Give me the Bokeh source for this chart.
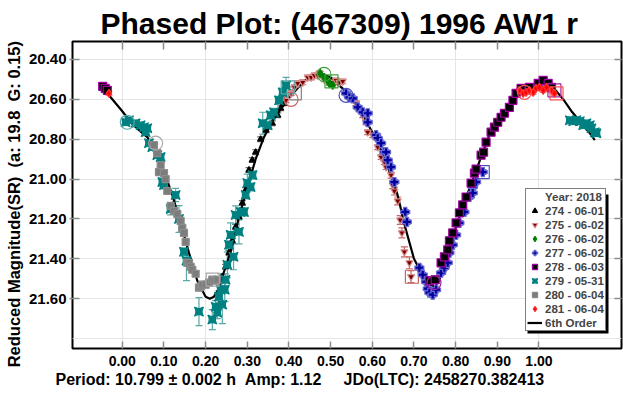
import math
from bokeh.plotting import figure
from bokeh.models import (Range1d, LinearAxis, FixedTicker, PrintfTickFormatter, Title,
                          Legend, LegendItem, ColumnDataSource, Whisker, TeeHead, BoxAnnotation)
from bokeh.embed import file_html
from bokeh.resources import INLINE

FONT = "Liberation Sans"

# ---------------- data ----------------
x_ticks = [0.0, 0.1, 0.2, 0.3, 0.4, 0.5, 0.6, 0.7, 0.8, 0.9, 1.0]
y_ticks = [20.4, 20.6, 20.8, 21.0, 21.2, 21.4, 21.6]

title_text = "Phased Plot: (467309) 1996 AW1 r"
ylabel_text = "Reduced Magnitude(SR)\u00a0\u00a0(a: 19.8\u00a0\u00a0G: 0.15)\u00a0\u00a0\u00a0\u00a0"
footer_text = "Period: 10.799 \u00b1 0.002 h\u00a0\u00a0Amp: 1.12\u00a0\u00a0\u00a0\u00a0\u00a0JDo(LTC): 2458270.382413"
legend_title = "Year: 2018"
fit_label = "6th Order"

ph274 = [0.240, 0.248, 0.256, 0.264, 0.272, 0.280, 0.288, 0.296, 0.304, 0.312, 0.320, 0.332, 0.345, 0.360, 0.373, 0.380, 0.388]
mg274 = [21.49, 21.44, 21.37, 21.31, 21.24, 21.19, 21.12, 21.055, 20.955, 20.905, 20.865, 20.80, 20.755, 20.72, 20.68, 20.645, 20.62]
er274 = [0.012] * 17

ph275 = [0.393, 0.405, 0.413, 0.421, 0.433, 0.445, 0.453, 0.461, 0.469, 0.473, 0.485, 0.497, 0.505, 0.513, 0.521, 0.529,
         0.549, 0.561, 0.577, 0.585, 0.589, 0.601, 0.613, 0.621, 0.629, 0.633, 0.645, 0.649, 0.653, 0.661, 0.667, 0.671,
         0.677, 0.689, 0.693]
mg275 = [20.605, 20.57, 20.54, 20.52, 20.515, 20.49, 20.49, 20.48, 20.48, 20.47, 20.50, 20.515, 20.515, 20.505, 20.515, 20.51,
         20.59, 20.62, 20.68, 20.715, 20.765, 20.78, 20.84, 20.89, 20.915, 20.94, 20.98, 21.03, 21.06, 21.11, 21.205, 21.27,
         21.365, 21.42, 21.49]
er275 = [0.012] * 26 + [0.015, 0.018, 0.02, 0.02, 0.022, 0.025, 0.025, 0.03, 0.03]

ph276 = [0.475, 0.485, 0.493, 0.497, 0.505]
mg276 = [20.47, 20.49, 20.505, 20.52, 20.53]
er276 = [0.01] * 5

ph277 = [0.537, 0.545, 0.553, 0.565, 0.577, 0.589, 0.589, 0.609, 0.613, 0.621, 0.629, 0.633, 0.637, 0.645, 0.653, 0.679,
         0.683, 0.713, 0.721, 0.729, 0.733, 0.737, 0.745, 0.753, 0.765, 0.773, 0.781, 0.785, 0.793, 0.801, 0.809, 0.821,
         0.833, 0.841, 0.841, 0.849, 0.865]
mg277 = [20.57, 20.59, 20.595, 20.64, 20.665, 20.67, 20.715, 20.78, 20.795, 20.82, 20.865, 20.865, 20.905, 20.94, 21.015, 21.165,
         21.215, 21.445, 21.48, 21.515, 21.55, 21.57, 21.58, 21.555, 21.47, 21.445, 21.42, 21.37, 21.33, 21.28, 21.22, 21.165,
         21.09, 21.04, 21.07, 21.015, 20.965]
er277 = [0.012] * 37

ph278 = [-0.047, -0.041, -0.036, 0.737, 0.751, 0.765, 0.773, 0.781, 0.785, 0.793, 0.801, 0.809, 0.817, 0.825, 0.837, 0.845,
         0.849, 0.861, 0.867, 0.873, 0.885, 0.893, 0.901, 0.909, 0.917, 0.929, 0.9375, 0.945, 0.957, 0.977, 0.998, 1.010,
         1.022, 1.030]
mg278 = [20.535, 20.545, 20.555, 21.51, 21.505, 21.42, 21.39, 21.355, 21.31, 21.27, 21.22, 21.17, 21.13, 21.09, 21.02, 20.97,
         20.95, 20.88, 20.865, 20.815, 20.765, 20.74, 20.715, 20.69, 20.67, 20.64, 20.605, 20.57, 20.545, 20.54, 20.52, 20.505,
         20.52, 20.54]
er278 = [0.012] * 34

ph279 = [0.008, 0.016, 0.032, 0.044, 0.052, 0.056, 0.060, 0.064, 0.072, 0.084, 0.092, 0.096, 0.100, 0.116, 0.128, 0.136,
         0.148, 0.154, 0.184, 0.216, 0.224, 0.228, 0.232, 0.236, 0.240, 0.246, 0.248, 0.252, 0.256, 0.260, 0.267, 0.272,
         0.280, 0.284, 0.292, 0.296, 0.300, 0.308, 0.3125, 0.337, 0.349, 0.356, 0.364, 0.376, 0.385, 0.393,
         1.074, 1.082, 1.090, 1.098, 1.106, 1.114, 1.122, 1.126, 1.134, 1.138]
mg279 = [20.715, 20.705, 20.72, 20.73, 20.74, 20.765, 20.745, 20.82, 20.84, 20.88, 20.89, 21.015, 21.03, 21.15, 21.08, 21.20,
         21.365, 21.41, 21.665, 21.705, 21.64, 21.67, 21.59, 21.555, 21.63, 21.555, 21.505, 21.43, 21.33, 21.28, 21.39, 21.18,
         21.265, 21.165, 21.165, 21.08, 21.02, 21.04, 20.98, 20.72, 20.73, 20.68, 20.665, 20.605, 20.565, 20.53,
         20.705, 20.71, 20.705, 20.71, 20.73, 20.72, 20.73, 20.745, 20.765, 20.77]
er279 = [0.012, 0.012, 0.012, 0.012, 0.012, 0.012, 0.012, 0.015, 0.015, 0.015, 0.015, 0.02, 0.02, 0.03, 0.033, 0.067,
         0.02, 0.10, 0.07, 0.05, 0.03, 0.03, 0.03, 0.08, 0.095, 0.06, 0.03, 0.065, 0.02, 0.06, 0.065, 0.045,
         0.06, 0.02, 0.02, 0.02, 0.045, 0.02, 0.02, 0.055, 0.02, 0.02, 0.02, 0.02, 0.02, 0.04,
         0.012, 0.012, 0.012, 0.012, 0.012, 0.012, 0.012, 0.012, 0.012, 0.012]

ph280 = [0.076, 0.084, 0.088, 0.092, 0.100, 0.104, 0.108, 0.116, 0.124, 0.132, 0.140, 0.144, 0.148, 0.152, 0.156, 0.160,
         0.164, 0.168, 0.176, 0.184, 0.188, 0.192, 0.200, 0.208, 0.216, 0.222, 0.228]
mg280 = [20.83, 20.87, 20.965, 20.93, 20.97, 21.00, 21.06, 21.135, 21.16, 21.175, 21.21, 21.245, 21.27, 21.315, 21.42, 21.42,
         21.44, 21.455, 21.475, 21.545, 21.54, 21.53, 21.53, 21.52, 21.505, 21.51, 21.505]
er280 = [0.012] * 27

ph281 = [-0.032, 0.953, 0.962, 0.969, 0.977, 0.986, 0.993, 1.001, 1.010, 1.018, 1.030, 1.037]
mg281 = [20.57, 20.555, 20.57, 20.565, 20.555, 20.565, 20.545, 20.54, 20.555, 20.54, 20.555, 20.57]
er281 = [0.01] * 12

# first (circle) / last (square) observation markers for each session
first_ph = {"274": None, "275": 0.405, "276": 0.484, "277": 0.537, "278": 0.748, "279": 0.012, "280": 0.080, "281": 0.965}
first_mg = {"274": None, "275": 20.60, "276": 20.475, "277": 20.58, "278": 21.52, "279": 20.715, "280": 20.82, "281": 20.565}
last_ph = {"274": 0.414, "275": 0.695, "276": 0.502, "277": 0.865, "278": 1.037, "279": 0.397, "280": 0.217, "281": 1.042}
last_mg = {"274": 20.57, "275": 21.49, "276": 20.51, "277": 20.965, "278": 20.555, "279": 20.54, "280": 21.505, "281": 20.57}

fit_ph = [-0.05, -0.03, 0.00, 0.02, 0.04, 0.06, 0.08, 0.10, 0.12, 0.14, 0.16, 0.18, 0.20, 0.21, 0.22, 0.23, 0.24, 0.26,
          0.28, 0.30, 0.32, 0.34, 0.36, 0.38, 0.40, 0.42, 0.44, 0.46, 0.48, 0.50, 0.52, 0.54, 0.56, 0.58, 0.60, 0.62,
          0.64, 0.66, 0.68, 0.70, 0.72, 0.74, 0.75, 0.76, 0.78, 0.80, 0.82, 0.84, 0.86, 0.88, 0.90, 0.92, 0.94, 0.96,
          0.98, 1.00, 1.02, 1.04, 1.06, 1.08, 1.10, 1.12, 1.134]
fit_mg = [20.545, 20.585, 20.66, 20.715, 20.755, 20.79, 20.86, 20.96, 21.08, 21.22, 21.37, 21.51, 21.59, 21.60, 21.59, 21.555,
          21.49, 21.365, 21.19, 21.045, 20.90, 20.79, 20.71, 20.65, 20.595, 20.545, 20.505, 20.48, 20.475, 20.49, 20.53,
          20.565, 20.625, 20.69, 20.765, 20.85, 20.955, 21.075, 21.25, 21.40, 21.48, 21.53, 21.54, 21.51, 21.38, 21.245,
          21.12, 21.01, 20.895, 20.785, 20.71, 20.655, 20.60, 20.555, 20.53, 20.52, 20.525, 20.555, 20.605, 20.665,
          20.715, 20.765, 20.805]

# ---------------- figure ----------------
p = figure(width=623, height=396, output_backend="svg", toolbar_location=None,
           x_range=Range1d(-0.1195, 1.198), y_range=Range1d(21.85, 20.31),
           min_border_left=72, min_border_right=2, min_border_top=41, min_border_bottom=48,
           x_axis_location=None, y_axis_location=None)
p.outline_line_color = "black"
p.outline_line_width = 2
p.background_fill_color = "white"
p.border_fill_color = "white"

p.title.text = title_text
p.title.align = "left"
p.title.offset = 28
p.title.standoff = 4
p.title.text_font = FONT
p.title.text_font_style = "bold"
p.title.text_font_size = "30px"
p.title.text_color = "black"


def mk_axis(ticks, tin, tout, labels, standoff=0, fs="14px"):
    if labels:
        ax = LinearAxis(ticker=FixedTicker(ticks=ticks), formatter=PrintfTickFormatter(format="%.2f"))
        ax.major_tick_line_color = "#8c8c8c"
        ax.major_tick_line_width = 1.5
        ax.major_tick_in = tin
        ax.major_tick_out = tout
        ax.minor_tick_line_color = None
        ax.major_label_text_font = FONT
        ax.major_label_text_font_style = "bold"
        ax.major_label_text_font_size = fs
        ax.major_label_text_color = "black"
        ax.major_label_standoff = standoff
    else:
        # opposite side: tick marks only (no labels)
        ax = LinearAxis(ticker=FixedTicker(ticks=[], minor_ticks=ticks))
        ax.major_tick_line_color = None
        ax.minor_tick_line_color = "#8c8c8c"
        ax.minor_tick_line_width = 1.5
        ax.minor_tick_in = tin
        ax.minor_tick_out = 0
    ax.axis_line_color = None
    return ax


bottom_ax = mk_axis(x_ticks, 7, 0, True, 7, "14px")
p.add_layout(bottom_ax, "below")
p.add_layout(mk_axis(x_ticks, 8, 0, False), "above")
left_ax = mk_axis(y_ticks, 7, 3, True, 3, "15px")
left_ax.axis_label = ylabel_text
left_ax.axis_label_text_font = FONT
left_ax.axis_label_text_font_style = "bold"
left_ax.axis_label_text_font_size = "16.5px"
left_ax.axis_label_text_color = "black"
left_ax.axis_label_standoff = 3
p.add_layout(left_ax, "left")
p.add_layout(mk_axis(y_ticks, 7, 0, False), "right")

footer = Title(text=footer_text, align="left", offset=-17, standoff=1, text_font=FONT,
               text_font_style="bold", text_font_size="16px", text_color="black")
p.add_layout(footer, "below")

# fit curve
curve = p.line(fit_ph, fit_mg, line_color="black", line_width=2.2)

series = [
    ("274", "274 - 06-01", ph274, mg274, er274, "triangle", "black", "black", "#6e6e6e", "#808080", 6),
    ("275", "275 - 06-02", ph275, mg275, er275, "inverted_triangle", "#7a0000", "#d88c8c", "#c86464", "#c86464", 7),
    ("276", "276 - 06-02", ph276, mg276, er276, "diamond", "#008000", "#008000", "#60b060", "#40a040", 8),
    ("277", "277 - 06-02", ph277, mg277, er277, "plus", "#0000a0", "#6a6ad0", "#6a6ad0", "#5050c0", 9),
    ("278", "278 - 06-03", ph278, mg278, er278, "square", "black", "#a000a0", "#a040a0", "#a020a0", 8),
    ("279", "279 - 05-31", ph279, mg279, er279, "square_pin", "#008080", "#008080", "#5aa8a8", "#5aa8a8", 9),
    ("280", "280 - 06-04", ph280, mg280, er280, "square", "#7c7c7c", "#8c8c8c", "#a8a8a8", "#a8a8a8", 7),
    ("281", "281 - 06-04", ph281, mg281, er281, "diamond", "#ff0000", "#ff3030", "#ff8080", "#ff5050", 8),
]

legend_items = []
dummy = p.scatter([], [], marker="circle", fill_alpha=0, line_alpha=0)
legend_items.append(LegendItem(label=legend_title, renderers=[dummy]))

for key, lab, ph, mg, er, mk, fc, lc, ec, oc, sz in series:
    src = ColumnDataSource(dict(x=ph, y=mg, up=[m - e for m, e in zip(mg, er)], lo=[m + e for m, e in zip(mg, er)]))
    w = Whisker(base="x", upper="up", lower="lo", source=src, line_color=ec, line_width=1.2,
                upper_head=TeeHead(size=7, line_color=ec, line_width=1.2),
                lower_head=TeeHead(size=7, line_color=ec, line_width=1.2))
    p.add_layout(w)
    r = p.scatter("x", "y", source=src, marker=mk, size=sz, fill_color=fc, line_color=lc, line_width=1.2)
    legend_items.append(LegendItem(label=lab, renderers=[r]))
    if first_ph[key] is not None:
        p.scatter([first_ph[key]], [first_mg[key]], marker="circle", size=14, fill_color=None,
                  line_color=oc, line_width=1.2)
    if last_ph[key] is not None:
        p.scatter([last_ph[key]], [last_mg[key]], marker="square", size=13, fill_color=None,
                  line_color=oc, line_width=1.2)

legend_items.append(LegendItem(label=fit_label, renderers=[curve]))

# shadow of legend box
shadow = BoxAnnotation(left=455, right=536, bottom=15, top=154,
                       left_units="screen", right_units="screen", bottom_units="screen", top_units="screen",
                       fill_color="black", fill_alpha=1, line_color=None)
p.add_layout(shadow)

legend = Legend(items=legend_items, location=(453, 17), orientation="vertical",
                border_line_color="black", border_line_width=1, background_fill_color="white",
                background_fill_alpha=1, padding=1, spacing=1, margin=0,
                glyph_width=15, glyph_height=13, label_height=13, label_standoff=3,
                label_text_font=FONT, label_text_font_style="bold", label_text_font_size="11.5px",
                label_text_baseline="middle")
p.add_layout(legend)

open("out.html", "w").write(file_html(p, INLINE))
